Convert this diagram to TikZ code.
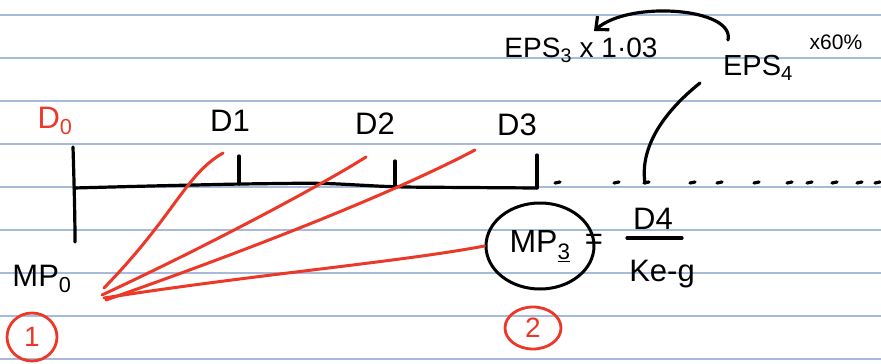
\documentclass[tikz,border=0pt]{standalone}
\usepackage{fontspec}
\setmainfont{Liberation Sans}
\usetikzlibrary{arrows.meta,shapes.geometric}
\definecolor{rulecol}{RGB}{168,186,220}
\definecolor{redink}{RGB}{236,56,40}
\begin{document}
\begin{tikzpicture}[x=1pt,y=-1pt,
  pen/.style={black,line width=3.2pt,line cap=round,line join=round},
  redpen/.style={redink,line width=3pt,line cap=round,line join=round},
  lbl/.style={inner sep=0pt,font=\fontsize{31}{33}\selectfont},
  redlbl/.style={lbl,text=redink},
  numcirc/.style={ellipse,draw=redink,line width=2.8pt,text=redink,inner sep=0pt,font=\fontsize{28}{30}\selectfont}]
\useasboundingbox (0,0) rectangle (881,364);
\fill[white] (0,0) rectangle (881,364);
\foreach \y in {15,58,101,144,187,230,273,316,359}
  \draw[rulecol,line width=1.2pt] (0,\y) -- (881,\y);
% timeline
\coordinate (t0top) at (73,147);
\coordinate (t0bot) at (75,242);
\coordinate (t0) at (74,188);
\coordinate (t1) at (239,184);
\coordinate (t1top) at (239,156);
\coordinate (t2) at (395,187);
\coordinate (t2top) at (395,161);
\coordinate (t3) at (537,188);
\coordinate (t3top) at (537,155);
\draw[pen] (t0top) .. controls (74,180) and (75,215) .. (t0bot);
\draw[pen,rounded corners=20pt] (t0) -- (150,186) -- (t1) -- (320,183) -- (t2) -- (t3);
\draw[pen] (t1top) -- (t1);
\draw[pen] (t2top) -- (t2);
\draw[pen] (t3top) -- (t3);
\foreach \x in {558,617,647,693,720,757,790,810,835,860,878}
  \draw[pen] (\x-3,183) -- (\x+2,182);
% labels
\node[redlbl] (d0) at (55,121) {D\textsubscript{0}};
\node[lbl] (d1) at (230,121) {D1};
\node[lbl] (d2) at (375,124) {D2};
\node[lbl] (d3) at (517,125) {D3};
\node[lbl,font=\fontsize{28}{30}\selectfont] (eps3) at (581,50) {EPS\textsubscript{3} x 1·03};
\node[lbl,font=\fontsize{29}{31}\selectfont] (eps4) at (758,68) {EPS\textsubscript{4}};
\node[lbl,font=\fontsize{21}{23}\selectfont] (pct) at (836,42) {x60\%};
\coordinate (arrstart) at (728,40);
\coordinate (arrend) at (594,31);
\draw[pen,-{Straight Barb[length=10pt,width=18pt]}] (arrstart) .. controls (735,8) and (630,0) .. (arrend);
\coordinate (downstart) at (700,83);
\coordinate (downend) at (645,183);
\draw[pen] (downstart) .. controls (660,115) and (640,150) .. (downend);
\node[lbl] (mp0) at (42,279) {MP\textsubscript{0}};
\node[numcirc,minimum width=50pt,minimum height=48pt] (c1) at (32,337) {1};
\node[ellipse,draw,line width=3pt,minimum width=108pt,minimum height=86pt,inner sep=0pt,font=\fontsize{32}{34}\selectfont] (mp3) at (540,246) {MP\textsubscript{\underline{3}}};
\node[lbl] (eq) at (594,242) {=};
\node[lbl] (d4) at (653,219) {D4};
\coordinate (barl) at (627,238);
\coordinate (barr) at (682,238);
\draw[pen] (barl) -- (barr);
\node[lbl] (keg) at (662,274) {Ke-g};
\node[numcirc,minimum width=56pt,minimum height=42pt] (c2) at (533,328) {2};
% red lines
\coordinate (o1) at (104,288);
\coordinate (o2) at (102,295);
\coordinate (o3) at (106,300);
\coordinate (o4) at (104,298);
\coordinate (e1) at (223,153);
\coordinate (e2) at (366,157);
\coordinate (e3) at (475,150);
\coordinate (e4) at (mp3.west);
\draw[redpen] (o1) .. controls (175,215) and (185,175) .. (e1);
\draw[redpen] (o2) .. controls (220,240) and (330,180) .. (e2);
\draw[redpen] (o3) .. controls (220,260) and (380,200) .. (e3);
\draw[redpen] (o4) .. controls (250,275) and (400,262) .. (e4);
\end{tikzpicture}
\end{document}
